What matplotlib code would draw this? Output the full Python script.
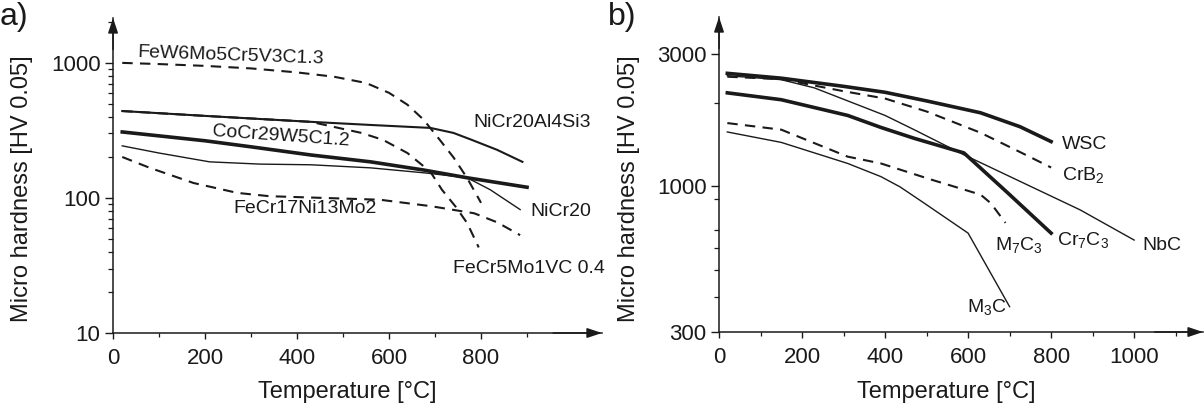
import matplotlib
matplotlib.use("Agg")
from matplotlib import pyplot as plt

plt.rcParams['font.family'] = ['Liberation Sans', 'DejaVu Sans']
plt.rcParams['mathtext.default'] = 'regular'

# ---- a) alloys: temperature [C] and micro hardness [HV 0.05] ----
few6_t = [20, 100, 200, 300, 400, 480, 550, 600, 640, 675, 710, 740, 770, 800]
few6_hv = [1000, 980, 950, 910, 850, 790, 710, 600, 490, 380, 270, 200, 140, 92]

nicral_t = [20, 200, 430, 560, 690, 740, 780, 835, 890]
nicral_hv = [440, 405, 366, 347, 330, 303, 269, 227, 185]

cocr_t = [20, 200, 300, 430, 560, 675, 770, 900]
cocr_hv = [308, 265, 239, 208, 185, 161, 141, 120]

nicr_t = [20, 100, 210, 320, 430, 560, 680, 770, 820, 885]
nicr_hv = [243, 215, 185, 178, 176, 167, 153, 141, 115, 82]

fecr17_t = [20, 80, 175, 270, 340, 580, 690, 785, 835, 885]
fecr17_hv = [201, 167, 129, 109, 103, 97, 87, 77, 66, 53]

fecr5_t = [20, 200, 430, 490, 540, 587, 640, 690, 715, 745, 770, 795]
fecr5_hv = [440, 405, 366, 330, 303, 269, 215, 156, 115, 86, 65, 43]

# ---- b) hard phases ----
wsc_t = [20, 150, 300, 400, 500, 630, 725, 800]
wsc_hv = [2550, 2450, 2290, 2180, 2030, 1840, 1640, 1450]

crb2_t = [20, 150, 300, 400, 500, 630, 725, 800]
crb2_hv = [2480, 2430, 2200, 2070, 1860, 1560, 1330, 1170]

nbc_t = [20, 150, 230, 400, 470, 590, 870, 1000]
nbc_hv = [2500, 2420, 2260, 1800, 1600, 1300, 824, 642]

cr7c3_t = [20, 150, 310, 390, 470, 590, 695, 800]
cr7c3_hv = [2170, 2050, 1800, 1630, 1490, 1320, 950, 680]

m7c3_t = [20, 150, 310, 390, 510, 630, 655, 690]
m7c3_hv = [1690, 1600, 1280, 1210, 1060, 935, 870, 740]

m3c_t = [20, 150, 310, 390, 436, 490, 600, 700]
m3c_hv = [1570, 1440, 1210, 1085, 997, 880, 680, 370]

a_yticks = [10, 100, 1000]
b_yticks = [300, 1000, 3000]
b_yminor = [400, 500, 600, 700, 900, 2000]
a_xticks = [0, 200, 400, 600, 800]
b_xticks = [0, 200, 400, 600, 800, 1000]

INK = '#1a1a1a'
DASH = (5, 3.5)
THIN, MED, THICK = 1.0, 1.5, 2.6

fig = plt.figure(figsize=(12.04, 4.05), dpi=100)
ax1 = fig.add_axes([0.0939, 0.1778, 0.4061, 0.7778])
ax2 = fig.add_axes([0.5972, 0.1802, 0.4020, 0.7778])


def style_axis(ax, xmax, ylim, xticks, yticks, yminor=None):
    ax.set_yscale('log')
    ax.set_xlim(0, xmax)
    ax.set_ylim(*ylim)
    for s in ['top', 'right']:
        ax.spines[s].set_visible(False)
    for s in ['left', 'bottom']:
        ax.spines[s].set_linewidth(1.1)
        ax.spines[s].set_color(INK)
    ax.set_xticks(xticks)
    ax.set_xticklabels([str(t) for t in xticks])
    ax.set_xticks([t + 100 for t in xticks], minor=True)
    ax.set_yticks(yticks)
    ax.set_yticklabels([str(t) for t in yticks])
    if yminor is not None:
        ax.set_yticks(yminor, minor=True)
    ax.yaxis.set_minor_formatter(matplotlib.ticker.NullFormatter())
    ax.tick_params(axis='both', which='major', labelsize=16, colors=INK, width=1.0)
    ax.tick_params(axis='y', which='major', length=6, pad=3)
    ax.tick_params(axis='y', which='minor', length=3.5, width=0.9, colors=INK)
    ax.tick_params(axis='x', which='major', length=4, pad=7)
    ax.tick_params(axis='x', which='minor', length=3, width=0.9, colors=INK)
    ax.set_xlabel('Temperature [°C]', fontsize=17, color=INK)
    ax.set_ylabel('Micro hardness [HV 0.05]', fontsize=17, color=INK)
    # arrow heads at the end of both axes
    head = dict(arrowstyle='-|>,head_length=0.9,head_width=0.3', color=INK,
                lw=1.1, shrinkA=0, shrinkB=0)
    ax.annotate('', xy=(0, 1), xytext=(0, 0.9), xycoords='axes fraction',
                arrowprops=head, annotation_clip=False)
    ax.annotate('', xy=(1, 0), xytext=(0.9, 0), xycoords='axes fraction',
                arrowprops=head, annotation_clip=False)


# a) alloys
style_axis(ax1, 1063, (10, 2150), a_xticks, a_yticks)
ax1.plot(few6_t, few6_hv, color=INK, lw=MED, dashes=DASH)
ax1.plot(nicral_t, nicral_hv, color=INK, lw=MED)
ax1.plot(fecr5_t, fecr5_hv, color=INK, lw=MED, dashes=DASH)
ax1.plot(cocr_t, cocr_hv, color=INK, lw=THICK)
ax1.plot(nicr_t, nicr_hv, color=INK, lw=THIN)
ax1.plot(fecr17_t, fecr17_hv, color=INK, lw=MED, dashes=DASH)

lab = dict(fontsize=14, color=INK, ha='left', va='center', rotation_mode='anchor')
ax1.text(54, 1186, 'FeW6Mo5Cr5V3C1.3', rotation=-2, **lab)
ax1.text(783, 359, 'NiCr20Al4Si3', **lab)
ax1.text(215, 308, 'CoCr29W5C1.2', rotation=-4, **lab)
ax1.text(261, 84, 'FeCr17Ni13Mo2', **lab)
ax1.text(907, 79, 'NiCr20', **lab)
ax1.text(739, 30, 'FeCr5Mo1VC 0.4', **lab)

ax1.xaxis.set_label_coords(0.479, -0.152)
ax1.yaxis.set_label_coords(-0.164, 0.457)
fig.text(0.0, 0.995, 'a)', fontsize=23, color=INK, ha='left', va='top')

# b) hard phases
style_axis(ax2, 1166, (300, 4064), b_xticks, b_yticks, b_yminor)
ax2.plot(wsc_t, wsc_hv, color=INK, lw=THICK)
ax2.plot(crb2_t, crb2_hv, color=INK, lw=MED, dashes=DASH)
ax2.plot(nbc_t, nbc_hv, color=INK, lw=THIN)
ax2.plot(cr7c3_t, cr7c3_hv, color=INK, lw=THICK)
ax2.plot(m7c3_t, m7c3_hv, color=INK, lw=MED, dashes=DASH)
ax2.plot(m3c_t, m3c_hv, color=INK, lw=THIN)

ax2.text(827, 1413, 'WSC', **lab)
ax2.text(827, 1101, 'CrB$_2$', **lab)
ax2.text(1019, 616, 'NbC', **lab)
ax2.text(814, 642, 'Cr$_7$C$_3$', **lab)
ax2.text(665, 616, 'M$_7$C$_3$', **lab)
ax2.text(598, 369, 'M$_3$C', **lab)

ax2.xaxis.set_label_coords(0.469, -0.155)
ax2.yaxis.set_label_coords(-0.163, 0.456)
fig.text(0.505, 0.995, 'b)', fontsize=23, color=INK, ha='left', va='top')

plt.savefig('out.png', dpi=100)
